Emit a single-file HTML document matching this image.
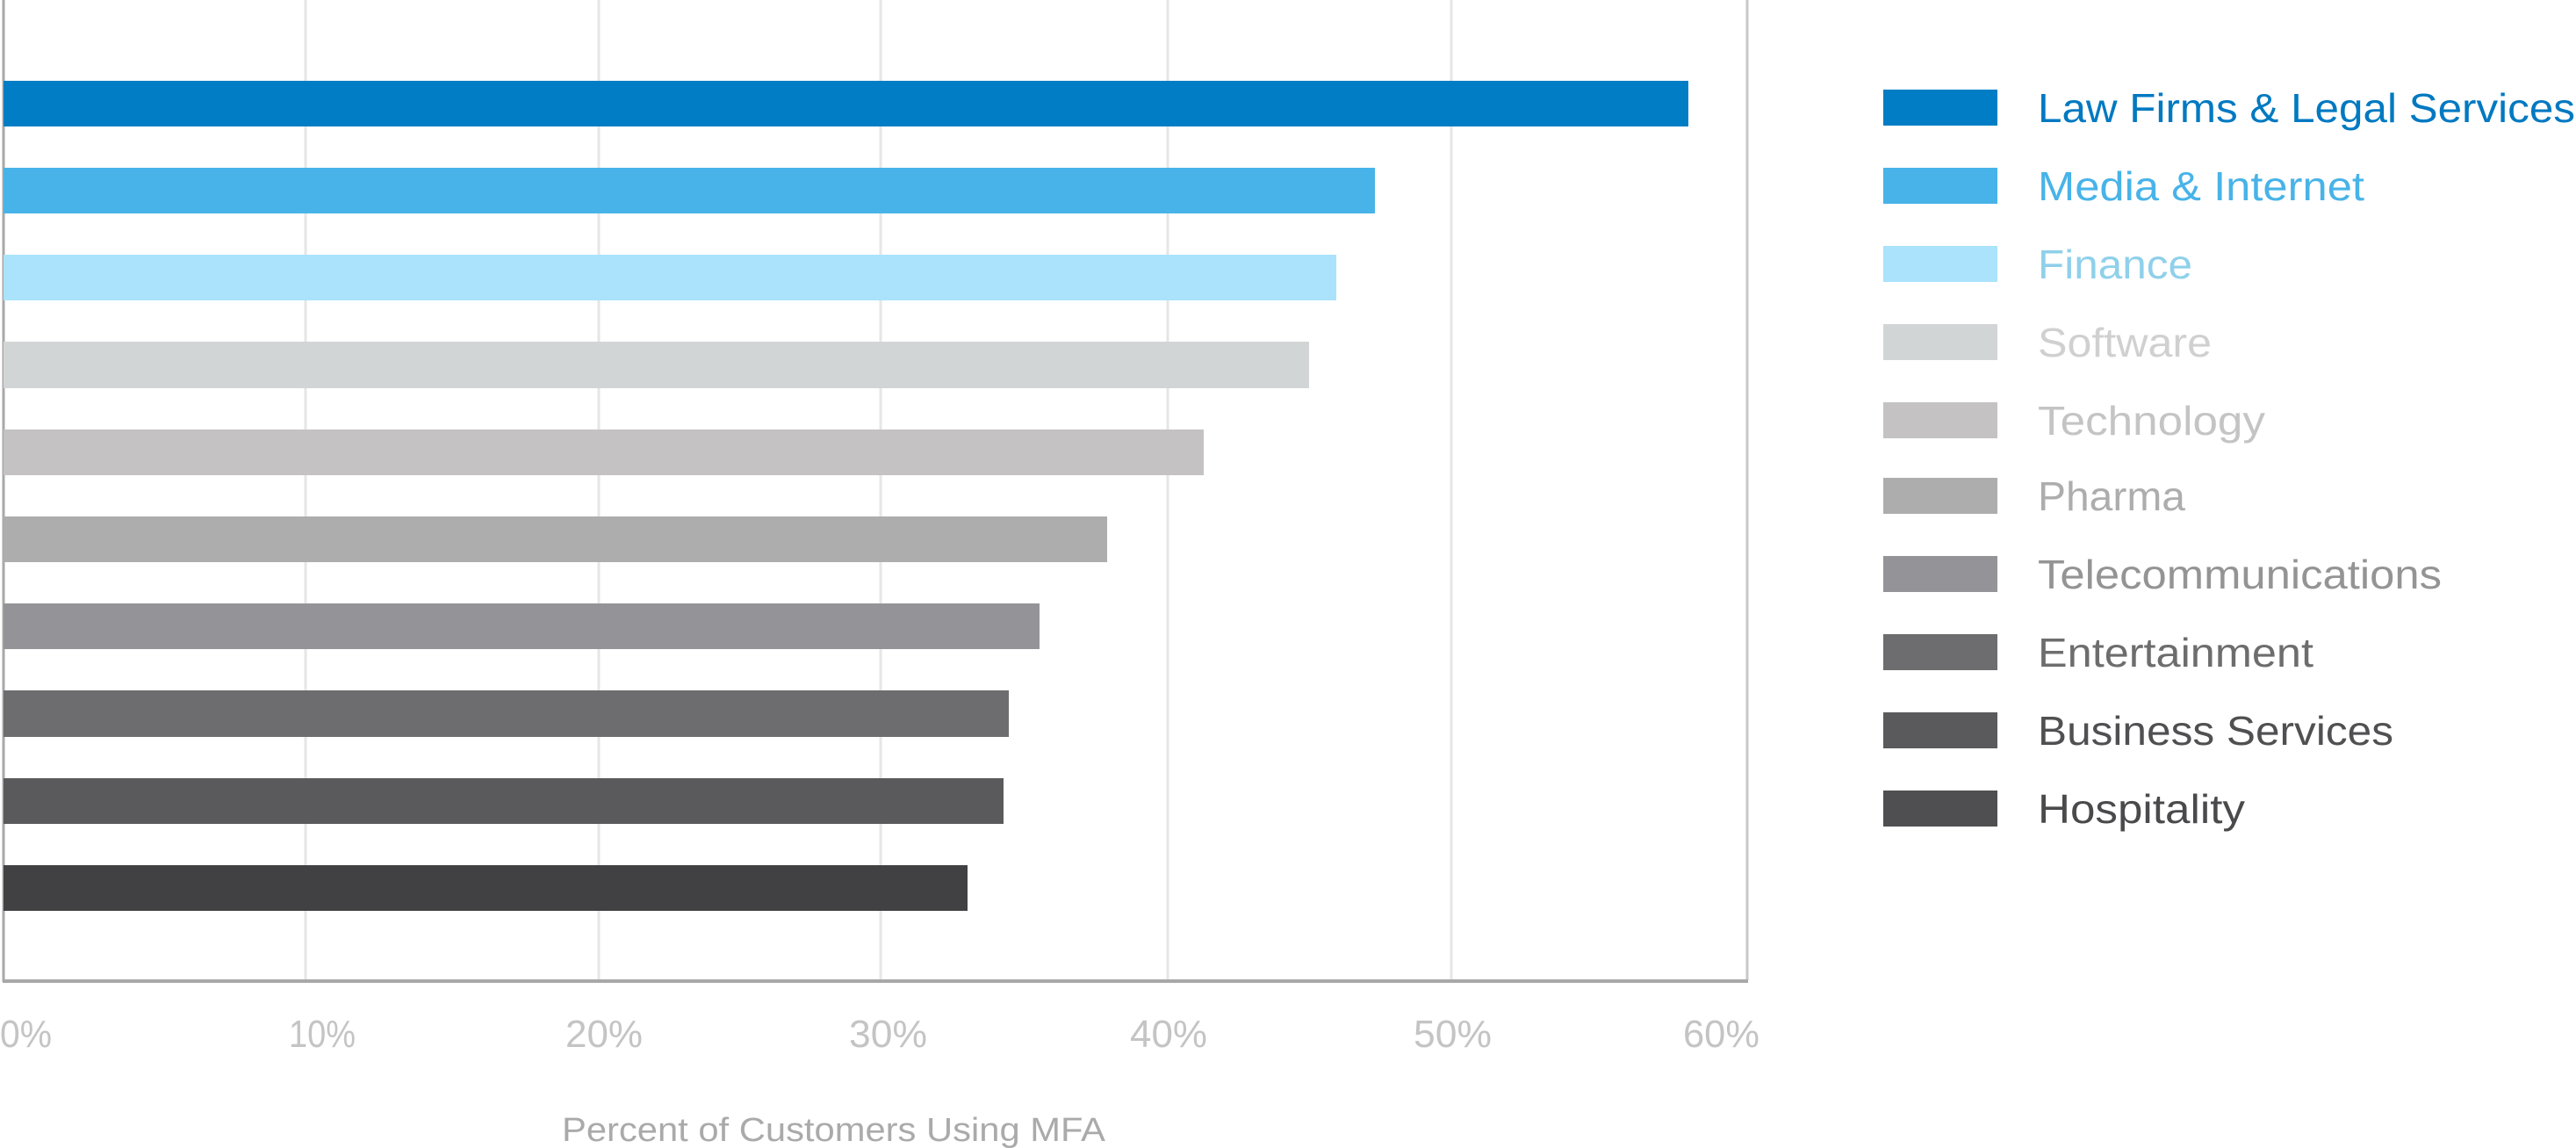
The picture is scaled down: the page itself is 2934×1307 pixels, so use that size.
<!DOCTYPE html>
<html><head><meta charset="utf-8"><style>html,body{margin:0;padding:0;background:#fff}svg{display:block}</style></head>
<body>
<svg width="2934" height="1307" viewBox="0 0 2934 1307" xmlns="http://www.w3.org/2000/svg" font-family="Liberation Sans, sans-serif">
<g stroke="#e6e6e6" stroke-width="3">
<line x1="348" y1="0" x2="348" y2="1116"/>
<line x1="682" y1="0" x2="682" y2="1116"/>
<line x1="1003" y1="0" x2="1003" y2="1116"/>
<line x1="1330" y1="0" x2="1330" y2="1116"/>
<line x1="1653" y1="0" x2="1653" y2="1116"/>
</g>
<line x1="1990" y1="0" x2="1990" y2="1116" stroke="#c8c8c8" stroke-width="3"/>
<line x1="4" y1="0" x2="4" y2="1118" stroke="#a8a8a8" stroke-width="3"/>
<line x1="3" y1="1117" x2="1991" y2="1117" stroke="#a8a8a8" stroke-width="4"/>
<rect x="4" y="92" width="1919" height="52" fill="#007dc5"/>
<rect x="4" y="191" width="1562" height="52" fill="#48b3e8"/>
<rect x="4" y="290" width="1518" height="52" fill="#aae3fb"/>
<rect x="4" y="389" width="1487" height="53" fill="#d2d5d6"/>
<rect x="4" y="489" width="1367" height="52" fill="#c4c2c3"/>
<rect x="4" y="588" width="1257" height="52" fill="#adadad"/>
<rect x="4" y="687" width="1180" height="52" fill="#949397"/>
<rect x="4" y="786" width="1145" height="53" fill="#6d6d6f"/>
<rect x="4" y="886" width="1139" height="52" fill="#5a5a5c"/>
<rect x="4" y="985" width="1098" height="52" fill="#414143"/>
<g font-size="44" fill="#c4c4c4">
<text x="0" y="1192" textLength="59" lengthAdjust="spacingAndGlyphs">0%</text>
<text x="329" y="1192" textLength="76" lengthAdjust="spacingAndGlyphs">10%</text>
<text x="644" y="1192" textLength="88" lengthAdjust="spacingAndGlyphs">20%</text>
<text x="967" y="1192" textLength="89" lengthAdjust="spacingAndGlyphs">30%</text>
<text x="1287" y="1192" textLength="88" lengthAdjust="spacingAndGlyphs">40%</text>
<text x="1610" y="1192" textLength="89" lengthAdjust="spacingAndGlyphs">50%</text>
<text x="1917" y="1192" textLength="87" lengthAdjust="spacingAndGlyphs">60%</text>
</g>
<text x="640" y="1299" font-size="38" fill="#aaaaaa" textLength="619" lengthAdjust="spacingAndGlyphs">Percent of Customers Using MFA</text>
<g>
<rect x="2145" y="102" width="130" height="41" fill="#007dc5"/>
<rect x="2145" y="191" width="130" height="41" fill="#48b3e8"/>
<rect x="2145" y="280" width="130" height="41" fill="#aae3fb"/>
<rect x="2145" y="369" width="130" height="41" fill="#d2d5d6"/>
<rect x="2145" y="458" width="130" height="41" fill="#c4c2c3"/>
<rect x="2145" y="544" width="130" height="41" fill="#adadad"/>
<rect x="2145" y="633" width="130" height="41" fill="#949397"/>
<rect x="2145" y="722" width="130" height="41" fill="#6d6d6f"/>
<rect x="2145" y="811" width="130" height="41" fill="#5a5a5c"/>
<rect x="2145" y="900" width="130" height="41" fill="#4f4f51"/>
</g>
<g font-size="46">
<text x="2321" y="139" fill="#0079c1" textLength="612" lengthAdjust="spacingAndGlyphs">Law Firms &amp; Legal Services</text>
<text x="2321" y="228" fill="#48b3e8" textLength="372" lengthAdjust="spacingAndGlyphs">Media &amp; Internet</text>
<text x="2321" y="317" fill="#8fd0ea" textLength="176" lengthAdjust="spacingAndGlyphs">Finance</text>
<text x="2321" y="406" fill="#d0d0d0" textLength="198" lengthAdjust="spacingAndGlyphs">Software</text>
<text x="2321" y="495" fill="#c4c4c4" textLength="259" lengthAdjust="spacingAndGlyphs">Technology</text>
<text x="2321" y="581" fill="#adadad" textLength="168" lengthAdjust="spacingAndGlyphs">Pharma</text>
<text x="2321" y="670" fill="#949494" textLength="460" lengthAdjust="spacingAndGlyphs">Telecommunications</text>
<text x="2321" y="759" fill="#6d6d6d" textLength="314" lengthAdjust="spacingAndGlyphs">Entertainment</text>
<text x="2321" y="848" fill="#505052" textLength="405" lengthAdjust="spacingAndGlyphs">Business Services</text>
<text x="2321" y="937" fill="#4a4a4c" textLength="236" lengthAdjust="spacingAndGlyphs">Hospitality</text>
</g>
</svg>
</body></html>
